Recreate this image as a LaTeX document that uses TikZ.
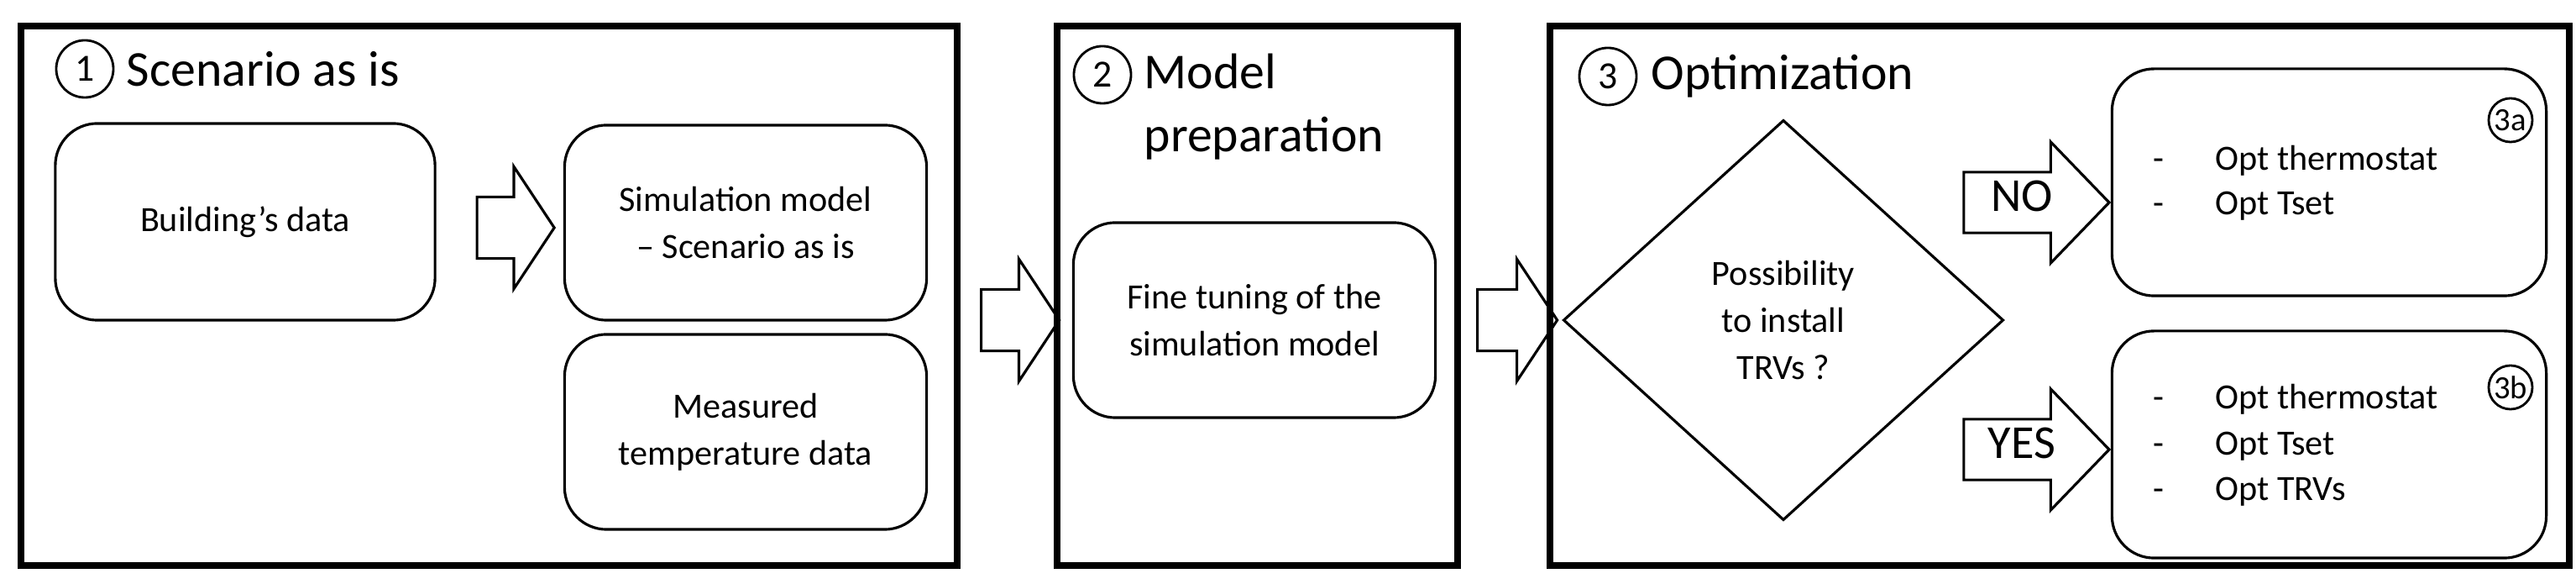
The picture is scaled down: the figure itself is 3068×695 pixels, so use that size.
\documentclass[tikz,border=0pt]{standalone}
\usepackage{fontspec}
\setmainfont{Carlito}
\usetikzlibrary{shapes.geometric,shapes.arrows}
\tikzset{
  frame/.style={line width=2.3pt, black},
  rbox/.style={draw, line width=0.9pt, rounded corners=0.5cm, align=center,
    font=\fontsize{12}{16}\selectfont},
  num/.style={draw, circle, line width=0.8pt, inner sep=0pt, minimum size=0.68cm,
    font=\fontsize{13}{13}\selectfont},
  subnum/.style={num, minimum size=0.52cm, font=\fontsize{11}{11}\selectfont},
  title/.style={anchor=west, align=left, inner sep=0pt, font=\fontsize{17}{21.5}\selectfont},
  blockarrow/.style={draw, single arrow, line width=0.9pt, inner xsep=0pt,
    inner ysep=0.35cm, single arrow head extend=0.36cm},
  textarrow/.style={blockarrow, inner ysep=0.19cm, text height=0.26cm, text depth=0.05cm,
    minimum height=1.73cm, single arrow tip angle=92, font=\fontsize{16}{16}\selectfont}
}
\begin{document}
\begin{tikzpicture}[x=0.01cm,y=-0.01cm]
  \useasboundingbox (0,0) rectangle (3068,695);
  % frames
  \draw[frame] (25,31) rectangle (1140,673);
  \draw[frame] (1259,31) rectangle (1736,673);
  \draw[frame] (1846,31) rectangle (3060,673);
  % step 1
  \node[num] (n1) at (101,82) {1};
  \node[title] (t1) at (150,82) {Scenario as is};
  \node[rbox, minimum width=4.52cm, minimum height=2.34cm] (bdata) at (292,264) {Building’s data};
  \node[rbox, minimum width=4.31cm, minimum height=2.32cm] (simmod) at (888,265)
    {Simulation model\\– Scenario as is};
  \node[rbox, minimum width=4.31cm, minimum height=2.32cm] (meas) at (888,514)
    {Measured\\temperature data};
  \node[blockarrow, minimum height=0.92cm, minimum width=1.43cm, single arrow tip angle=113]
    (a1) at (602,271) {};
  % step 2
  \node[num] (n2) at (1313,89) {2};
  \node[title] (t2) at (1362,127) {Model\\preparation};
  \node[rbox, minimum width=4.31cm, minimum height=2.32cm] (fine) at (1494,381)
    {Fine tuning of the\\simulation model};
  \node[blockarrow, minimum height=0.93cm, minimum width=1.42cm, single arrow tip angle=113]
    (a12) at (1203,381) {};
  % step 3
  \node[num] (n3) at (1915,91) {3};
  \node[title] (t3) at (1966,91) {Optimization};
  \node[blockarrow, minimum height=0.95cm, minimum width=1.42cm, single arrow tip angle=113]
    (a23) at (1795,381) {};
  \node[draw, diamond, line width=0.9pt, inner sep=0pt, minimum width=5.24cm,
    minimum height=4.76cm, align=center, font=\fontsize{12}{16}\selectfont]
    (trv) at (2124,381) {Possibility\\to install\\TRVs ?};
  \node[textarrow, minimum width=1.41cm] (no) at (2408,241) {NO};
  \node[textarrow, minimum width=1.41cm] (yes) at (2408,535) {YES};
  \node[rbox, minimum width=5.17cm, minimum height=2.70cm] (opta) at (2774,217) {};
  \node[rbox, minimum width=5.17cm, minimum height=2.70cm] (optb) at (2774,529) {};
  \node[subnum] (n3a) at (2990,143) {3a};
  \node[subnum] (n3b) at (2990,461) {3b};
  \node[anchor=west, align=left, font=\fontsize{12}{15}\selectfont] (la) at (2552,218)
    {\makebox[0.74cm][l]{-}Opt thermostat\\\makebox[0.74cm][l]{-}Opt Tset};
  \node[anchor=west, align=left, font=\fontsize{12}{15.5}\selectfont] (lb) at (2552,530)
    {\makebox[0.74cm][l]{-}Opt thermostat\\\makebox[0.74cm][l]{-}Opt Tset\\\makebox[0.74cm][l]{-}Opt TRVs};
\end{tikzpicture}
\end{document}
